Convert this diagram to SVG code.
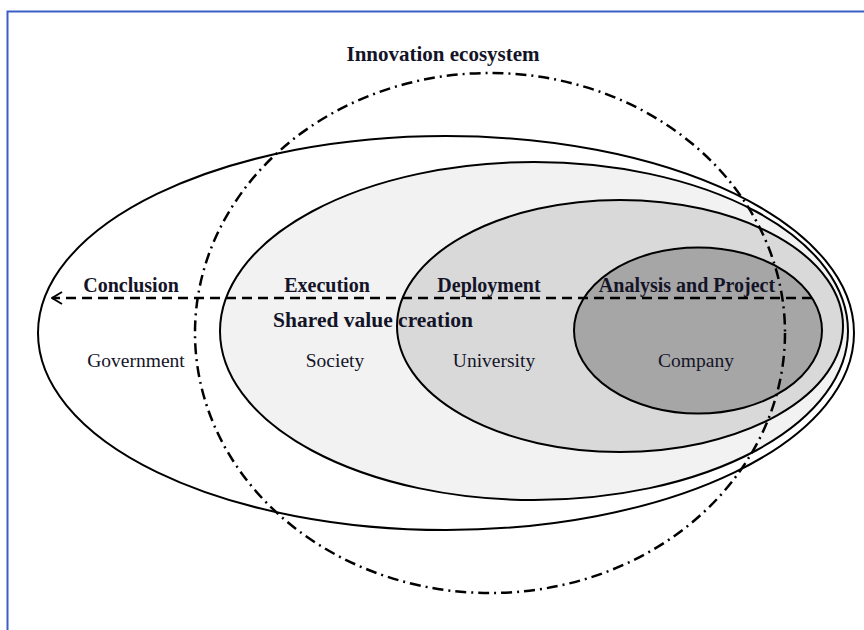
<svg xmlns="http://www.w3.org/2000/svg" width="864" height="630" viewBox="0 0 864 630">
<defs>
<style>
.ring{stroke:#000;stroke-width:2}
.bold{font-family:"Liberation Serif",serif;font-weight:bold;font-size:20px;fill:#141428;text-anchor:middle}
.reg{font-family:"Liberation Serif",serif;font-size:19.5px;fill:#141428;text-anchor:middle}
</style>
<marker id="open" viewBox="0 0 12 14" refX="11" refY="7" markerWidth="12" markerHeight="14" markerUnits="userSpaceOnUse" orient="auto">
<polyline points="1,1 11,7 1,13" fill="none" stroke="#000" stroke-width="2"/>
</marker>
</defs>
<rect width="864" height="630" fill="#fff"/>
<rect x="7.5" y="11.5" width="900" height="700" fill="none" stroke="#3b5fc6" stroke-width="2"/>
<g id="government">
<ellipse class="ring" cx="446" cy="333" rx="408" ry="197" fill="#fff"/>
<text class="bold" x="131" y="292">Conclusion</text>
<text class="reg" x="136" y="367">Government</text>
</g>
<g id="society">
<ellipse class="ring" cx="534" cy="331" rx="314" ry="169" fill="#f2f2f2"/>
<text class="bold" x="327" y="292">Execution</text>
<text class="reg" x="335" y="367">Society</text>
</g>
<g id="university">
<ellipse class="ring" cx="620" cy="326" rx="223" ry="126" fill="#d9d9d9"/>
<text class="bold" x="489" y="292">Deployment</text>
<text class="reg" x="494" y="367">University</text>
</g>
<g id="company">
<ellipse class="ring" cx="698" cy="330.5" rx="124" ry="83" fill="#a6a6a6"/>
<text class="bold" x="687" y="292">Analysis and Project</text>
<text class="reg" x="696" y="367">Company</text>
</g>
<g id="innovation-ecosystem">
<ellipse cx="490" cy="333" rx="295" ry="260" fill="none" stroke="#000" stroke-width="2.5" stroke-dasharray="11 5 2 5"/>
<text class="bold" x="443" y="61" style="font-size:21px">Innovation ecosystem</text>
</g>
<g id="connectors">
<line x1="812" y1="298" x2="52" y2="298" stroke="#000" stroke-width="2.5" stroke-dasharray="10 6" marker-end="url(#open)"/>
</g>
<text class="bold" x="373" y="327" style="font-size:21.5px">Shared value creation</text>
</svg>
